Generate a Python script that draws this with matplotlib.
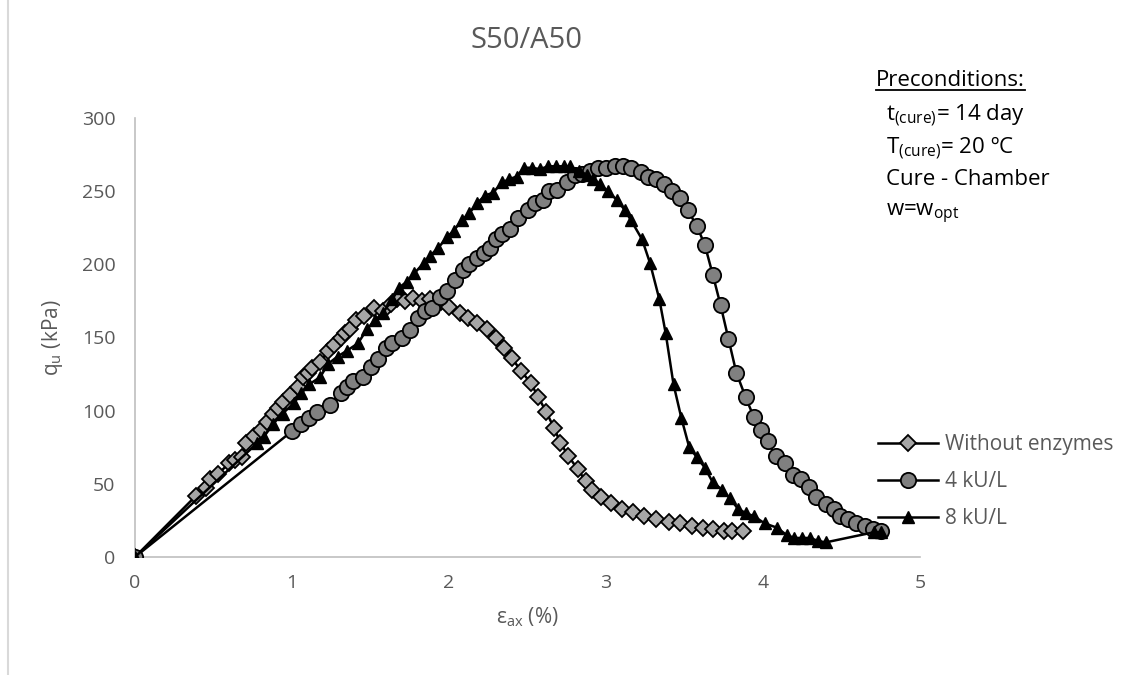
import matplotlib
matplotlib.use("Agg")
import matplotlib.pyplot as plt
from matplotlib.lines import Line2D

plt.rcParams['font.family'] = ['Open Sans', 'DejaVu Sans']
plt.rcParams['mathtext.fontset'] = 'custom'
plt.rcParams['mathtext.rm'] = 'Open Sans'

title = "S50/A50"
x_label = r"ε$_{\mathregular{ax}}$ (%)"
y_label = r"q$_{\mathregular{u}}$ (kPa)"
x_ticks = [0, 1, 2, 3, 4, 5]
y_ticks = [0, 50, 100, 150, 200, 250, 300]

# Without enzymes
x_no = [0, 0.39, 0.45, 0.48, 0.53, 0.6, 0.64, 0.68, 0.71, 0.76, 0.8, 0.84, 0.88, 0.91, 0.94, 0.99,
        1.04, 1.07, 1.1, 1.13, 1.18, 1.23, 1.27, 1.31, 1.34, 1.37, 1.41, 1.46, 1.52, 1.58, 1.63,
        1.67, 1.72, 1.77, 1.83, 1.88, 1.95, 2.0, 2.07, 2.12, 2.18, 2.24, 2.3, 2.35, 2.4, 2.46,
        2.52, 2.57, 2.62, 2.67, 2.71, 2.76, 2.82, 2.87, 2.91, 2.97, 3.03, 3.1, 3.17, 3.24, 3.32,
        3.4, 3.47, 3.55, 3.62, 3.68, 3.75, 3.8, 3.87]
y_no = [0, 42, 47, 53, 57, 64, 66, 68, 78, 83, 87, 92, 98, 102, 106, 111,
        116, 123, 126, 129, 133, 141, 145, 150, 153, 156, 162, 165, 170, 168, 173,
        176, 175, 177, 175, 176, 174, 171, 167, 163, 160, 156, 150, 143, 136, 127,
        119, 109, 99, 88, 78, 69, 60, 52, 46, 41, 37, 33, 31, 28, 26,
        24, 23, 21, 20, 19, 18, 18, 18]

# 4 kU/L
x_4 = [0, 1.0, 1.06, 1.11, 1.16, 1.24, 1.31, 1.35, 1.39, 1.45, 1.5, 1.55, 1.6, 1.64, 1.7, 1.75,
       1.8, 1.85, 1.89, 1.94, 1.99, 2.04, 2.09, 2.13, 2.18, 2.22, 2.26, 2.3, 2.34, 2.39, 2.44,
       2.5, 2.55, 2.6, 2.64, 2.69, 2.75, 2.8, 2.85, 2.9, 2.95, 3.0, 3.06, 3.11, 3.16, 3.22,
       3.27, 3.32, 3.37, 3.42, 3.47, 3.52, 3.58, 3.63, 3.68, 3.73, 3.78, 3.83, 3.89, 3.94,
       3.99, 4.03, 4.08, 4.14, 4.19, 4.24, 4.29, 4.34, 4.4, 4.45, 4.49, 4.54, 4.59, 4.65,
       4.7, 4.75]
y_4 = [0, 86, 91, 95, 99, 104, 112, 116, 120, 123, 130, 135, 143, 146, 150, 155,
       163, 168, 170, 178, 182, 189, 196, 200, 204, 208, 211, 217, 221, 224, 232,
       237, 242, 244, 250, 251, 256, 261, 262, 264, 266, 266, 267, 267, 266, 263,
       260, 258, 255, 250, 245, 237, 226, 213, 193, 172, 149, 126, 109, 96,
       87, 79, 69, 64, 56, 53, 48, 41, 36, 33, 28, 26, 23, 21,
       19, 18]

# 8 kU/L
x_8 = [0, 0.78, 0.82, 0.88, 0.94, 1.01, 1.06, 1.11, 1.18, 1.23, 1.29, 1.35, 1.42, 1.48, 1.53,
       1.58, 1.64, 1.68, 1.73, 1.78, 1.84, 1.88, 1.93, 1.99, 2.03, 2.08, 2.13, 2.18, 2.23,
       2.28, 2.34, 2.38, 2.43, 2.48, 2.53, 2.58, 2.63, 2.68, 2.73, 2.77, 2.83, 2.88, 2.92,
       2.96, 3.01, 3.07, 3.12, 3.16, 3.23, 3.28, 3.34, 3.38, 3.43, 3.48, 3.53, 3.58, 3.63,
       3.68, 3.74, 3.79, 3.84, 3.89, 3.94, 4.01, 4.09, 4.15, 4.2, 4.25, 4.3, 4.35, 4.4,
       4.71, 4.75]
y_8 = [0, 78, 82, 91, 98, 105, 112, 118, 123, 132, 137, 141, 146, 156, 162,
       167, 176, 184, 188, 194, 201, 206, 211, 219, 223, 230, 235, 242, 247,
       249, 256, 258, 260, 266, 266, 265, 267, 267, 267, 267, 264, 261, 258,
       255, 250, 244, 237, 230, 217, 201, 176, 153, 118, 95, 75, 68, 61,
       51, 46, 40, 33, 30, 28, 23, 20, 15, 13, 13, 13, 11, 10,
       17, 17]

label_no = "Without enzymes"
label_4 = "4 kU/L"
label_8 = "8 kU/L"

W, H = 1132, 675
fig = plt.figure(figsize=(W / 100, H / 100), dpi=100)
ax = fig.add_axes([135 / W, 1 - 557 / H, (920 - 135) / W, (557 - 118) / H])

grey_txt = '#595959'
axis_col = '#BFBFBF'

l1, = ax.plot(x_no, y_no, color='black', lw=1.8, marker='D', ms=8.5, mfc='#A6A6A6',
              mec='black', mew=1.3, label=label_no, zorder=3)
l2, = ax.plot(x_4, y_4, color='black', lw=1.8, marker='o', ms=11, mfc='#808080',
              mec='black', mew=1.3, label=label_4, zorder=4)
l3, = ax.plot(x_8, y_8, color='black', lw=1.8, marker='^', ms=9, mfc='black',
              mec='black', mew=1.0, label=label_8, zorder=5)

ax.set_xlim(0, 5)
ax.set_ylim(0, 300)
ax.set_xticks(x_ticks)
ax.set_yticks(y_ticks)
for s in ['top', 'right']:
    ax.spines[s].set_visible(False)
for s in ['left', 'bottom']:
    ax.spines[s].set_color(axis_col)
    ax.spines[s].set_linewidth(1.2)
ax.tick_params(length=0, labelsize=14, labelcolor=grey_txt, pad=14)
ax.tick_params(axis='x', pad=12)

ax.set_xlabel(x_label, fontsize=15, color=grey_txt, labelpad=10)
ax.set_ylabel(y_label, fontsize=15, color=grey_txt, labelpad=12)

fig.text(527 / W, 1 - 40 / H, title, ha='center', va='center', fontsize=21, color=grey_txt)

# Preconditions annotation
fs = 16
t0 = fig.text(876 / W, 1 - 80 / H, "Preconditions:", ha='left', va='center', fontsize=fs, color='black')
fig.text(886 / W, 1 - 116 / H, r"t$_{\mathregular{(cure)}}$= 14 day", ha='left', va='center', fontsize=fs)
fig.text(886 / W, 1 - 148 / H, r"T$_{\mathregular{(cure)}}$= 20 ºC", ha='left', va='center', fontsize=fs)
fig.text(886 / W, 1 - 180 / H, "Cure - Chamber", ha='left', va='center', fontsize=fs)
fig.text(886 / W, 1 - 214 / H, r"w=w$_{\mathregular{opt}}$", ha='left', va='center', fontsize=fs)

fig.canvas.draw()
bb = t0.get_window_extent()
yline = bb.y0 + 1
fig.add_artist(Line2D([bb.x0 / W, bb.x1 / W], [yline / H, yline / H], color='black', lw=1.3,
                      transform=fig.transFigure))

# Left border line of chart area
fig.add_artist(Line2D([8 / W, 8 / W], [0 / H, 1], color='#D9D9D9', lw=1.5, transform=fig.transFigure))

leg = ax.legend(handles=[l1, l2, l3], loc='upper left', bbox_to_anchor=(878 / W, 1 - 434 / H),
                bbox_transform=fig.transFigure, frameon=False, fontsize=15,
                labelcolor=grey_txt, handlelength=2.9, handletextpad=0.3, labelspacing=0.78,
                borderaxespad=0, borderpad=0)

fig.savefig('out.png', dpi=100, facecolor='white')
